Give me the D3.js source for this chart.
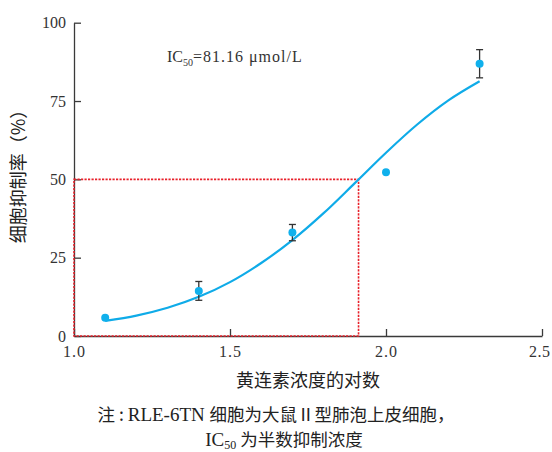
<!DOCTYPE html>
<html><head><meta charset="utf-8">
<script src="https://cdn.jsdelivr.net/npm/d3@7"></script>
<style>body{margin:0;background:#fff}</style>
</head><body>
<svg id="c" width="552" height="452"></svg>
<script>
const xTicks = [1.0, 1.5, 2.0, 2.5];
const yTicks = [0, 25, 50, 75, 100];
const pointX = [1.1, 1.4, 1.7, 2.0, 2.3];
const pointY = [5.8, 14.4, 33.0, 52.3, 86.9];
const pointErr = [0, 3.0, 2.6, 0, 4.5];
const curveX = [1.1, 1.2, 1.3, 1.4, 1.5, 1.6, 1.7, 1.8, 1.9, 2.0, 2.1, 2.2, 2.3];
const curveY = [4.8, 6.5, 9.0, 12.5, 17.2, 23.3, 30.6, 39.2, 48.8, 58.5, 67.5, 75.2, 81.3];
const ic50Log = 1.912;
const ic50Level = 50;

const svg = d3.select('#c');
const x = d3.scaleLinear().domain([1.0, 2.5]).range([74, 542]);
const y = d3.scaleLinear().domain([0, 100]).range([336, 22.7]);
const serif = '"Liberation Serif","DejaVu Serif",serif';
const cjk = '"Noto Sans CJK SC","Noto Sans CJK JP",sans-serif';
const axisColor = '#3a3a3a';

const gx = svg.append('g').attr('transform', 'translate(0,336)')
  .call(d3.axisBottom(x).tickValues(xTicks).tickFormat(d3.format('.1f')).tickSizeInner(-7).tickSizeOuter(0).tickPadding(10));
const gy = svg.append('g').attr('transform', 'translate(74,0)')
  .call(d3.axisLeft(y).tickValues(yTicks).tickFormat(d3.format('d')).tickSizeInner(-7).tickSizeOuter(0).tickPadding(8));
[gx, gy].forEach(g => {
  g.selectAll('path,line').attr('stroke', axisColor).attr('stroke-width', 1.3);
  g.selectAll('text').attr('fill', '#333').attr('font-family', serif).attr('font-size', 16);
});
gx.selectAll('text').attr('letter-spacing', 1);
gx.selectAll('.tick').filter(d => d === 2.5).select('text').attr('letter-spacing', 0.5).attr('text-anchor', 'end').attr('dx', 8);

// red dashed guide
svg.append('path')
  .attr('d', `M${x(1.0)},${y(ic50Level)}H${x(ic50Log)}V${y(0)}H${x(1.0)}Z`)
  .attr('fill', 'none').attr('stroke', '#e8202a').attr('stroke-width', 1.6)
  .attr('stroke-dasharray', '2.2,1.3');

// fitted curve
const line = d3.line().x(d => x(d[0])).y(d => y(d[1])).curve(d3.curveCatmullRom);
svg.append('path').datum(curveX.map((v, i) => [v, curveY[i]]))
  .attr('d', line).attr('fill', 'none').attr('stroke', '#0fabe8').attr('stroke-width', 2.2);

// error bars
const pts = pointX.map((v, i) => ({x: v, y: pointY[i], e: pointErr[i]}));
const eb = svg.append('g').attr('stroke', '#333').attr('stroke-width', 1.3);
pts.filter(d => d.e > 0).forEach(d => {
  eb.append('line').attr('x1', x(d.x)).attr('x2', x(d.x)).attr('y1', y(d.y - d.e)).attr('y2', y(d.y + d.e));
  [d.y - d.e, d.y + d.e].forEach(v => eb.append('line').attr('x1', x(d.x) - 3.5).attr('x2', x(d.x) + 3.5).attr('y1', y(v)).attr('y2', y(v)));
});
svg.append('g').selectAll('circle').data(pts).join('circle')
  .attr('cx', d => x(d.x)).attr('cy', d => y(d.y)).attr('r', 4).attr('fill', '#10b0ec');

// IC50 annotation
const t = svg.append('text').attr('x', 167).attr('y', 62).attr('font-family', serif).attr('font-size', 16).attr('fill', '#333');
t.append('tspan').text('IC');
t.append('tspan').attr('font-size', 10).attr('dy', 4).text('50');
t.append('tspan').attr('dy', -4).attr('letter-spacing', 1).text('=81.16 μmol/L');

// axis titles
svg.append('text').attr('x', 308).attr('y', 387).attr('text-anchor', 'middle')
  .attr('font-family', cjk).attr('font-size', 18).attr('fill', '#222').text('黄连素浓度的对数');
svg.append('text').attr('transform', 'translate(25,172) rotate(-90)').attr('text-anchor', 'middle')
  .attr('font-family', cjk).attr('font-size', 18).attr('fill', '#222').text('细胞抑制率（%）');

// caption
const c1 = svg.append('text').attr('x', 276).attr('y', 421).attr('text-anchor', 'middle')
  .attr('font-size', 17.5).attr('fill', '#222');
c1.append('tspan').attr('font-family', cjk).text('注 : ');
c1.append('tspan').attr('font-family', serif).attr('font-size', 19).text('RLE-6TN ');
c1.append('tspan').attr('font-family', cjk).text('细胞为大鼠Ⅱ型肺泡上皮细胞，');
const c2 = svg.append('text').attr('x', 284).attr('y', 446).attr('text-anchor', 'middle')
  .attr('font-size', 17.5).attr('fill', '#222');
c2.append('tspan').attr('font-family', serif).attr('font-size', 19).text('IC');
c2.append('tspan').attr('font-family', serif).attr('font-size', 12).attr('dy', 2.5).text('50');
c2.append('tspan').attr('font-family', cjk).attr('dy', -2.5).text(' 为半数抑制浓度');
</script>
</body></html>
